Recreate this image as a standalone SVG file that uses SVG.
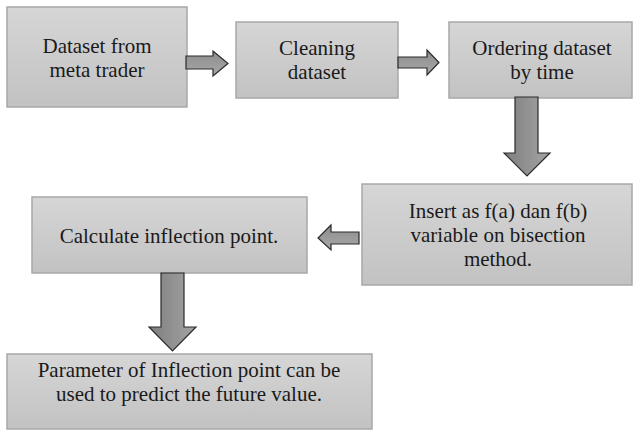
<svg xmlns="http://www.w3.org/2000/svg" width="633" height="431" viewBox="0 0 633 431">
<defs>
<linearGradient id="boxg" x1="0" y1="0" x2="0" y2="1">
<stop offset="0" stop-color="#d6d6d6"/>
<stop offset="1" stop-color="#c2c2c2"/>
</linearGradient>
<linearGradient id="arrh" x1="0" y1="0" x2="0" y2="1">
<stop offset="0" stop-color="#8c8c8c"/>
<stop offset="1" stop-color="#a8a8a8"/>
</linearGradient>
<linearGradient id="arrv" x1="0" y1="0" x2="1" y2="0">
<stop offset="0" stop-color="#7e7e7e"/>
<stop offset="1" stop-color="#a4a4a4"/>
</linearGradient>
</defs>
<style>
.box{fill:url(#boxg);stroke:#a8a8a8;stroke-width:1.5}
.t{font-family:'Liberation Serif','Times New Roman',Times,serif;font-size:21px;fill:#1a1a1a;text-anchor:middle}
.ah{fill:url(#arrh);stroke:#2a2a2a;stroke-width:1.2;stroke-linejoin:miter}
.av{fill:url(#arrv);stroke:#2a2a2a;stroke-width:1.2;stroke-linejoin:miter}
</style>
<rect width="633" height="431" fill="#ffffff"/>
<g id="n1">
<rect class="box" x="7" y="7" width="180" height="100"/>
<text class="t" x="97" y="53">Dataset from</text>
<text class="t" x="97" y="77">meta trader</text>
</g>
<g id="n2">
<rect class="box" x="236" y="22" width="162" height="76"/>
<text class="t" x="317" y="55">Cleaning</text>
<text class="t" x="317" y="79">dataset</text>
</g>
<g id="n3">
<rect class="box" x="449" y="22" width="183" height="76"/>
<text class="t" x="542" y="55">Ordering dataset</text>
<text class="t" x="542" y="79">by time</text>
</g>
<g id="n4">
<rect class="box" x="362" y="184" width="270" height="101"/>
<text class="t" x="498" y="218">Insert as f(a) dan f(b)</text>
<text class="t" x="498" y="242">variable on bisection</text>
<text class="t" x="498" y="266">method.</text>
</g>
<g id="n5">
<rect class="box" x="32" y="197" width="275" height="76"/>
<text class="t" x="169" y="243">Calculate inflection point.</text>
</g>
<g id="n6">
<rect class="box" x="7" y="354" width="365" height="75"/>
<text class="t" x="189" y="377">Parameter of Inflection point can be</text>
<text class="t" x="189" y="401">used to predict the future value.</text>
</g>
<g id="connectors">
<polygon class="ah" points="186,56 213,56 213,51 228,63.5 213,76 213,69 186,69"/>
<polygon class="ah" points="398,57 427,57 427,50 439,62.5 427,75 427,68 398,68"/>
<polygon class="av" points="515,97 538,97 538,153 550,153 527,176 504,153 515,153"/>
<polygon class="ah" points="359,232 331,232 331,225 318,238 331,250 331,244 359,244"/>
<polygon class="av" points="161,273 184,273 184,327 196,327 172.5,351 149,327 161,327"/>
</g>
</svg>
